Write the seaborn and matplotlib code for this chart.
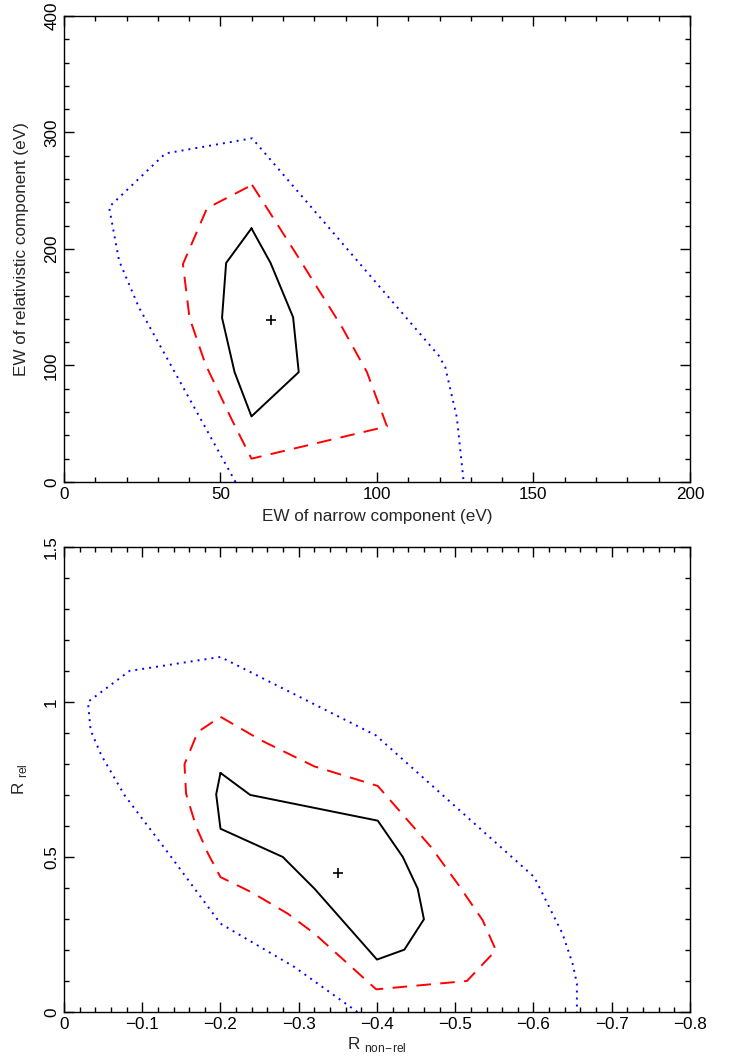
import pandas as pd
import matplotlib
matplotlib.use("Agg")
import matplotlib.pyplot as plt
from matplotlib.ticker import MultipleLocator, FuncFormatter
import seaborn as sns

# -----------------------------
# 1. Contour data
# -----------------------------
# top panel: EW narrow vs EW relativistic (eV)
ew_blue_x = [54.8, 23.9, 17.6, 14.4, 32.4, 60.1, 119.7, 121.8, 125.5, 127.7]
ew_blue_y = [0, 150, 190, 236, 282, 295, 108.6, 98.6, 55.7, 0]

ew_red_x = [60.1, 73.9, 88.8, 96.8, 103.2, 59.9, 53.7, 45.2, 40.1, 38.0, 45.7]
ew_red_y = [255, 197, 133, 94.3, 47.7, 20, 53, 101, 141, 187, 235]

ew_black_x = [59.9, 66.0, 73.2, 75.0, 59.9, 54.5, 50.5, 51.8]
ew_black_y = [217.7, 188, 141.4, 94.3, 56.3, 94.3, 140.9, 188]

ew_best = (66.2, 139)

# bottom panel: R non-rel vs R rel
r_blue_x = [-0.375, -0.2945, -0.2, -0.1668, -0.137, -0.0774, -0.0477, -0.034,
            -0.0306, -0.0838, -0.2, -0.3987, -0.601, -0.637, -0.650, -0.6555, -0.6555]
r_blue_y = [0, 0.145, 0.285, 0.398, 0.5, 0.699, 0.828, 0.909,
            1.0, 1.1, 1.145, 0.892, 0.435, 0.253, 0.156, 0.0915, 0]

r_red_x = [-0.2, -0.252, -0.32, -0.401, -0.469, -0.503, -0.535, -0.552, -0.515,
           -0.399, -0.3626, -0.32, -0.286, -0.239, -0.2, -0.184, -0.169, -0.156,
           -0.154, -0.171]
r_red_y = [0.952, 0.876, 0.792, 0.729, 0.532, 0.414, 0.296, 0.199, 0.1,
           0.073, 0.156, 0.253, 0.317, 0.387, 0.435, 0.511, 0.597, 0.704,
           0.799, 0.903]

r_black_x = [-0.2, -0.238, -0.401, -0.433, -0.452, -0.46, -0.435, -0.4,
             -0.32, -0.2796, -0.2, -0.1945]
r_black_y = [0.771, 0.7, 0.617, 0.5, 0.398, 0.299, 0.201, 0.169,
             0.398, 0.5, 0.591, 0.702]

r_best = (-0.3506, 0.449)


def closed(xs, ys):
    # repeat first point so the contour closes
    return pd.DataFrame({"x": list(xs) + [xs[0]], "y": list(ys) + [ys[0]]})


def opened(xs, ys):
    return pd.DataFrame({"x": xs, "y": ys})


# -----------------------------
# 2. Style
# -----------------------------
sns.set_style("ticks")
plt.rcParams['font.family'] = ['Liberation Sans', 'DejaVu Sans']
plt.rcParams['mathtext.fontset'] = 'custom'
plt.rcParams['mathtext.rm'] = 'Liberation Sans'
plt.rcParams['axes.edgecolor'] = 'black'
plt.rcParams['axes.linewidth'] = 1.0

DOT = (0, (1, 2.6))
DASH = (0, (7.5, 4.8))
LW = 1.4

fig = plt.figure(figsize=(7.33, 10.57), dpi=100)
ax1 = fig.add_axes([0.0873, 0.544, 0.854, 0.4409])
ax2 = fig.add_axes([0.0873, 0.0426, 0.854, 0.44])

# -----------------------------
# 3. Top panel
# -----------------------------
sns.lineplot(data=opened(ew_blue_x, ew_blue_y), x="x", y="y", sort=False, estimator=None,
             color="blue", linestyle=DOT, lw=LW, ax=ax1)
sns.lineplot(data=closed(ew_red_x, ew_red_y), x="x", y="y", sort=False, estimator=None,
             color="red", linestyle=DASH, lw=LW, ax=ax1)
sns.lineplot(data=closed(ew_black_x, ew_black_y), x="x", y="y", sort=False, estimator=None,
             color="black", lw=LW, ax=ax1)
ax1.plot([ew_best[0]], [ew_best[1]], marker="+", color="black", ms=7, mew=1.2)

ax1.set_xlim(0, 200)
ax1.set_ylim(0, 400)
ax1.xaxis.set_major_locator(MultipleLocator(50))
ax1.xaxis.set_minor_locator(MultipleLocator(10))
ax1.yaxis.set_major_locator(MultipleLocator(100))
ax1.yaxis.set_minor_locator(MultipleLocator(20))
ax1.set_xlabel("EW of narrow component (eV)", fontsize=12.3, labelpad=5)
ax1.set_ylabel("EW of relativistic component (eV)", fontsize=12.3, labelpad=11)

# -----------------------------
# 4. Bottom panel
# -----------------------------
sns.lineplot(data=opened(r_blue_x, r_blue_y), x="x", y="y", sort=False, estimator=None,
             color="blue", linestyle=DOT, lw=LW, ax=ax2)
sns.lineplot(data=closed(r_red_x, r_red_y), x="x", y="y", sort=False, estimator=None,
             color="red", linestyle=DASH, lw=LW, ax=ax2)
sns.lineplot(data=closed(r_black_x, r_black_y), x="x", y="y", sort=False, estimator=None,
             color="black", lw=LW, ax=ax2)
ax2.plot([r_best[0]], [r_best[1]], marker="+", color="black", ms=7, mew=1.2)

ax2.set_xlim(0, -0.8)
ax2.set_ylim(0, 1.5)
ax2.xaxis.set_major_locator(MultipleLocator(0.1))
ax2.xaxis.set_minor_locator(MultipleLocator(0.02))
ax2.yaxis.set_major_locator(MultipleLocator(0.5))
ax2.yaxis.set_minor_locator(MultipleLocator(0.1))
ax2.set_xlabel(r"R $_{\rm non\!-\!rel}$", fontsize=12.3, labelpad=2)
ax2.set_ylabel(r"R $_{\rm rel}$", fontsize=12.3, labelpad=11)

fmt = FuncFormatter(lambda v, p: "0" if abs(v) < 1e-9 else ("%g" % v).replace("-", "\u2212"))

for ax in (ax1, ax2):
    ax.xaxis.set_major_formatter(fmt)
    ax.yaxis.set_major_formatter(fmt)
    ax.tick_params(which="both", direction="in", top=True, right=True, width=1, colors="black",
                   labelsize=12.3)
    ax.tick_params(which="major", length=7)
    ax.tick_params(which="minor", length=3.5)
    for lab in ax.get_yticklabels():
        lab.set_rotation(90)
        lab.set_va("center")
    for s in ax.spines.values():
        s.set_visible(True)

plt.savefig("out.png", dpi=100)
